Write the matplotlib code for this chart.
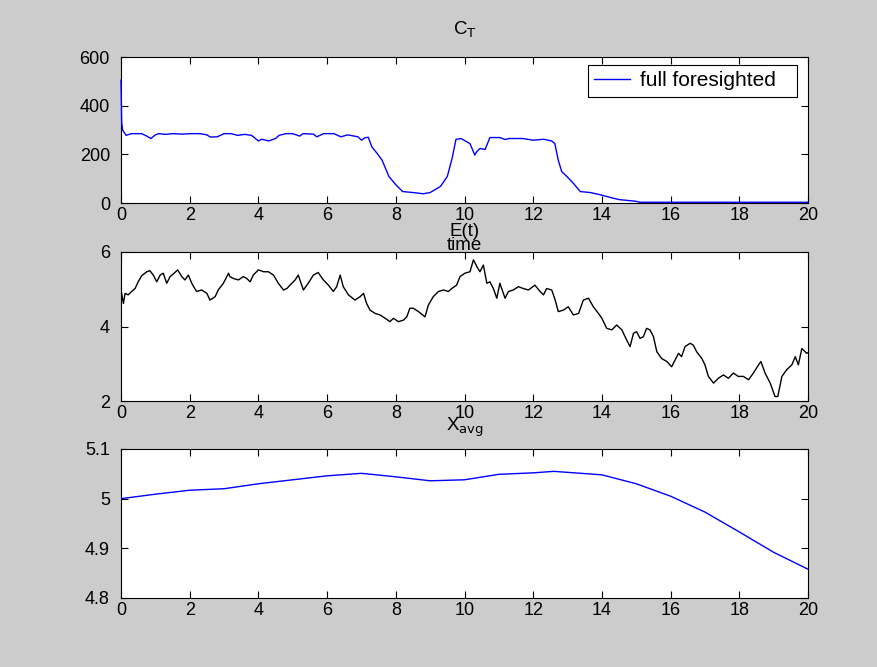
import matplotlib
matplotlib.use("Agg")
import matplotlib.pyplot as plt

plt.rcParams['font.family'] = ['Liberation Sans', 'DejaVu Sans']

# C_T (full foresighted)
ct_t = [0.0, 0.02, 0.05, 0.15, 0.3, 0.6, 0.75, 0.87, 1.0, 1.1, 1.3, 1.5, 1.8, 2.0, 2.3, 2.5,
        2.6, 2.8, 3.0, 3.2, 3.4, 3.6, 3.8, 4.0, 4.1, 4.3, 4.5, 4.6, 4.8, 5.0, 5.2, 5.3,
        5.6, 5.7, 5.9, 6.2, 6.4, 6.6, 6.9, 7.0, 7.1, 7.2, 7.3, 7.45, 7.6, 7.8, 8.0, 8.2,
        8.5, 8.8, 9.0, 9.3, 9.5, 9.65, 9.75, 9.9, 10.16, 10.3, 10.35, 10.45, 10.6, 10.74,
        11.03, 11.18, 11.3, 11.7, 12.0, 12.3, 12.54, 12.63, 12.73, 12.83, 12.98, 13.17,
        13.37, 13.66, 13.95, 14.24, 14.5, 15.0, 15.1, 20.0]
ct_v = [505, 330, 299, 278, 285, 285, 275, 265, 280, 285, 282, 285, 283, 285, 285, 280,
        271, 272, 285, 285, 278, 282, 278, 255, 262, 255, 265, 278, 285, 285, 275, 285,
        283, 272, 285, 285, 272, 280, 272, 258, 268, 270, 231, 205, 176, 109, 75, 47,
        43, 38, 43, 68, 109, 190, 261, 265, 244, 197, 210, 224, 220, 269,
        269, 261, 265, 265, 258, 262, 255, 244, 176, 129, 109, 81,
        47, 43, 34, 23, 14, 7, 3, 3]

# E(t)
e_t = [0.0, 0.07, 0.12, 0.21, 0.31, 0.41, 0.5, 0.6, 0.75, 0.84, 0.94, 1.04, 1.14, 1.23,
       1.33, 1.43, 1.57, 1.65, 1.77, 1.86, 1.96, 2.06, 2.2, 2.35, 2.5, 2.59, 2.74, 2.83,
       2.98, 3.13, 3.17, 3.27, 3.42, 3.56, 3.66, 3.76, 3.85, 4.0, 4.15, 4.29, 4.44, 4.58,
       4.73, 4.83, 4.92, 5.07, 5.16, 5.31, 5.45, 5.6, 5.74, 5.89, 6.04, 6.18, 6.28, 6.38,
       6.47, 6.62, 6.81, 6.96, 7.06, 7.15, 7.25, 7.4, 7.54, 7.69, 7.83, 7.93, 8.08, 8.22,
       8.32, 8.41, 8.51, 8.66, 8.85, 8.95, 9.09, 9.24, 9.39, 9.53, 9.63, 9.77, 9.87, 10.01,
       10.16, 10.26, 10.36, 10.45, 10.55, 10.65, 10.74, 10.84, 10.94, 11.03, 11.18, 11.28,
       11.42, 11.57, 11.71, 11.86, 12.05, 12.2, 12.3, 12.39, 12.54, 12.64, 12.73, 12.88,
       13.02, 13.17, 13.32, 13.46, 13.61, 13.75, 13.9, 14.0, 14.14, 14.29, 14.43, 14.58,
       14.72, 14.82, 14.92, 15.01, 15.11, 15.21, 15.3, 15.4, 15.5, 15.6, 15.74, 15.89,
       16.03, 16.13, 16.23, 16.32, 16.42, 16.57, 16.66, 16.76, 16.91, 17.0, 17.1, 17.25,
       17.39, 17.54, 17.68, 17.83, 17.97, 18.12, 18.27, 18.41, 18.56, 18.63, 18.75, 18.9,
       19.04, 19.12, 19.24, 19.38, 19.53, 19.63, 19.72, 19.82, 19.96, 20.0]
e_v = [4.98, 4.62, 4.89, 4.85, 4.94, 5.02, 5.2, 5.36, 5.47, 5.5, 5.38, 5.2, 5.38, 5.43,
       5.16, 5.34, 5.45, 5.52, 5.34, 5.25, 5.38, 5.16, 4.94, 4.98, 4.89, 4.71, 4.8, 4.98,
       5.16, 5.43, 5.34, 5.29, 5.25, 5.34, 5.29, 5.2, 5.38, 5.52, 5.47, 5.47, 5.38, 5.16,
       4.98, 5.02, 5.11, 5.25, 5.38, 4.98, 5.16, 5.38, 5.45, 5.25, 5.11, 4.94, 5.07, 5.38,
       5.07, 4.85, 4.71, 4.8, 4.89, 4.62, 4.44, 4.35, 4.31, 4.22, 4.13, 4.22, 4.13, 4.17,
       4.26, 4.49, 4.49, 4.4, 4.26, 4.58, 4.8, 4.94, 4.98, 4.94, 5.02, 5.11, 5.34, 5.43,
       5.47, 5.79, 5.61, 5.47, 5.65, 5.16, 5.2, 5.02, 4.76, 5.16, 4.76, 4.94,
       4.98, 5.07, 5.02, 4.98, 5.11, 4.94, 4.85, 5.02, 4.98, 4.71, 4.4, 4.44,
       4.53, 4.31, 4.35, 4.71, 4.76, 4.53, 4.35, 4.22, 3.95, 3.91, 4.04, 3.91,
       3.64, 3.46, 3.82, 3.86, 3.68, 3.73, 3.95, 3.91, 3.73, 3.32, 3.14, 3.06,
       2.92, 3.1, 3.28, 3.19, 3.46, 3.55, 3.5, 3.32, 3.14, 2.97, 2.66, 2.48,
       2.61, 2.7, 2.61, 2.75, 2.66, 2.66, 2.57, 2.75, 2.97, 3.06, 2.75, 2.48,
       2.12, 2.12, 2.66, 2.84, 2.97, 3.19, 2.97, 3.41, 3.28, 3.3]

# X_avg
x_t = [0, 1, 2, 3, 4, 5, 6, 7, 8, 9, 10, 11, 12, 12.6, 13, 14, 15, 16, 17, 18, 19, 20]
x_v = [5.0, 5.009, 5.017, 5.02, 5.03, 5.038, 5.046, 5.051, 5.044, 5.036, 5.038, 5.049,
       5.052, 5.055, 5.053, 5.048, 5.03, 5.005, 4.973, 4.933, 4.892, 4.858]

xticks = list(range(0, 21, 2))

fig = plt.figure(figsize=(8.77, 6.67), dpi=100, facecolor='#cccccc')
W, H = 877, 667

def make_ax(top, bottom):
    ax = fig.add_axes([121 / W, 1 - bottom / H, (808 - 121) / W, (bottom - top) / H])
    ax.set_facecolor('white')
    ax.set_xlim(0, 20)
    ax.set_xticks(xticks)
    ax.tick_params(direction='in', length=5, width=0.8, top=True, right=True,
                   labelsize=13, colors='black')
    ax.tick_params(axis='x', pad=3)
    ax.tick_params(axis='y', pad=8)
    for s in ax.spines.values():
        s.set_linewidth(0.8)
    return ax

ax1 = make_ax(57, 203)
ax1.plot(ct_t, ct_v, color='#0000ff', lw=1.0, label='full foresighted', zorder=3,
         clip_on=False)
ax1.set_ylim(0, 600)
ax1.set_yticks([0, 200, 400, 600])
# legend box spans x 588..797, y 65..100 px
leg = ax1.legend(loc='upper left', mode='expand', fontsize=15, fancybox=False,
                 framealpha=1, edgecolor='black', borderpad=0.3, handlelength=1.7,
                 handletextpad=0.5, borderaxespad=0,
                 bbox_to_anchor=((588 - 121) / 687, (203 - 100) / 146,
                                 (797 - 588) / 687, 35 / 146))
leg.get_frame().set_linewidth(0.8)
ax1.set_title(r'C$_\mathrm{T}$', fontsize=13.5, y=1 + 27 / 146, va='center', pad=0)
ax1.set_xlabel('time', fontsize=13.5)
ax1.xaxis.set_label_coords(0.5, -(246 - 203) / 146)
ax1.xaxis.label.set_va('center')

ax2 = make_ax(252, 401)
ax2.plot(e_t, e_v, color='black', lw=1.0, zorder=3)
ax2.set_ylim(2, 6)
ax2.set_yticks([2, 4, 6])
ax2.set_title('E(t)', fontsize=13.5, y=1 + 20 / 149, va='center', pad=0)

ax3 = make_ax(449, 598)
ax3.plot(x_t, x_v, color='#0000ff', lw=1.0, zorder=3)
ax3.set_ylim(4.8, 5.1)
ax3.set_yticks([4.8, 4.9, 5.0, 5.1])
ax3.set_yticklabels(['4.8', '4.9', '5', '5.1'])
ax3.set_title(r'X$_\mathrm{avg}$', fontsize=13.5, y=1 + 22 / 149, va='center', pad=0)

fig.savefig('out.png', dpi=100, facecolor=fig.get_facecolor())
